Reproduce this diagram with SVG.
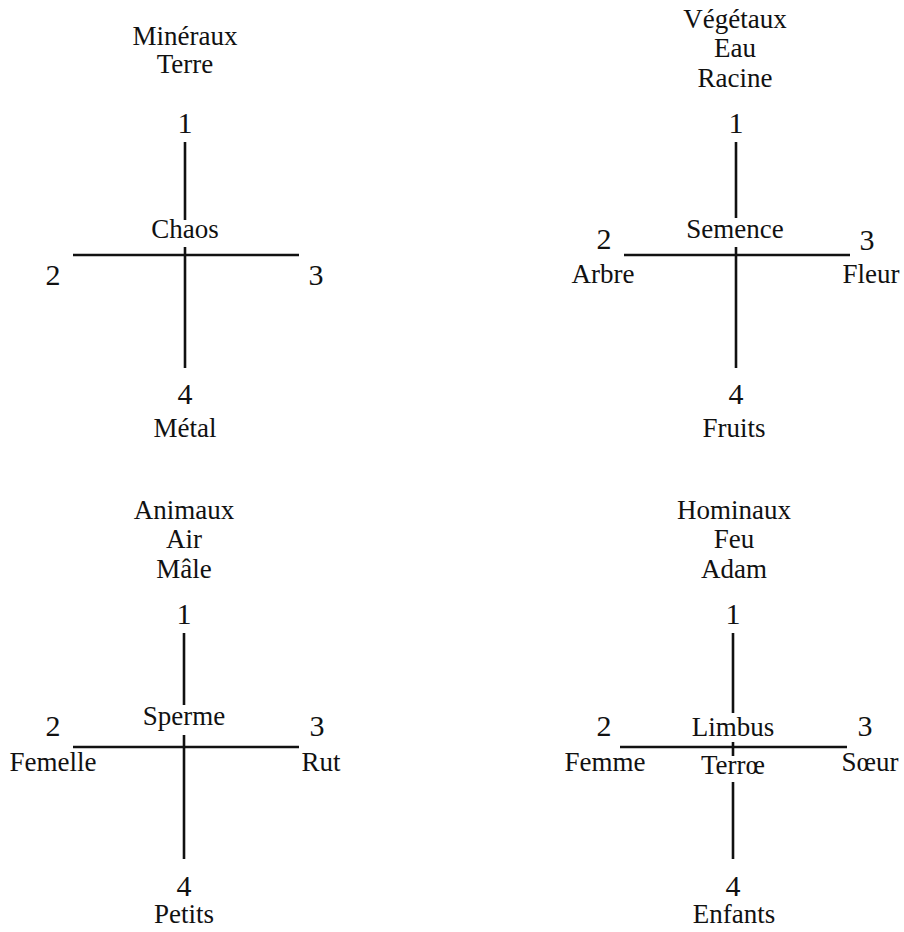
<svg xmlns="http://www.w3.org/2000/svg" width="904" height="932" viewBox="0 0 904 932">
<style>
text{font-family:"Liberation Serif","Times New Roman",serif;fill:#111;text-anchor:middle}
.w{font-size:27px}
.n{font-size:30px}
.ln{stroke:#111;stroke-width:2.6;fill:none}
</style>
<rect width="904" height="932" fill="#fff"/>
<g id="connectors">
<line class="ln" x1="185" y1="142" x2="185" y2="220"/>
<line class="ln" x1="185" y1="247" x2="185" y2="368"/>
<line class="ln" x1="73" y1="255" x2="299" y2="255"/>
<line class="ln" x1="736" y1="142" x2="736" y2="218"/>
<line class="ln" x1="736" y1="247" x2="736" y2="368"/>
<line class="ln" x1="624" y1="255" x2="850" y2="255"/>
<line class="ln" x1="184" y1="633" x2="184" y2="705"/>
<line class="ln" x1="184" y1="735" x2="184" y2="859"/>
<line class="ln" x1="73" y1="747" x2="299" y2="747"/>
<line class="ln" x1="733" y1="633" x2="733" y2="713"/>
<line class="ln" x1="733" y1="742" x2="733" y2="756"/>
<line class="ln" x1="733" y1="782" x2="733" y2="859"/>
<line class="ln" x1="620" y1="747" x2="847" y2="747"/>
</g>
<g id="mineraux">
<text class="w" x="185" y="45">Minéraux</text>
<text class="w" x="185" y="73">Terre</text>
<text class="n" x="185" y="133">1</text>
<text class="w" x="185" y="238">Chaos</text>
<text class="n" x="53" y="285">2</text>
<text class="n" x="316" y="285">3</text>
<text class="n" x="185" y="404">4</text>
<text class="w" x="185" y="437">Métal</text>
</g>
<g id="vegetaux">
<text class="w" x="735" y="28">Végétaux</text>
<text class="w" x="735" y="57">Eau</text>
<text class="w" x="735" y="87">Racine</text>
<text class="n" x="736" y="133">1</text>
<text class="w" x="735" y="238">Semence</text>
<text class="n" x="604" y="249">2</text>
<text class="w" x="603" y="283">Arbre</text>
<text class="n" x="867" y="250">3</text>
<text class="w" x="871" y="283">Fleur</text>
<text class="n" x="736" y="404">4</text>
<text class="w" x="734" y="437">Fruits</text>
</g>
<g id="animaux">
<text class="w" x="184" y="519">Animaux</text>
<text class="w" x="184" y="548">Air</text>
<text class="w" x="184" y="578">Mâle</text>
<text class="n" x="184" y="624">1</text>
<text class="w" x="184" y="725">Sperme</text>
<text class="n" x="53" y="736">2</text>
<text class="w" x="53" y="771">Femelle</text>
<text class="n" x="317" y="736">3</text>
<text class="w" x="321" y="771">Rut</text>
<text class="n" x="184" y="896">4</text>
<text class="w" x="184" y="923">Petits</text>
</g>
<g id="hominaux">
<text class="w" x="734" y="519">Hominaux</text>
<text class="w" x="734" y="548">Feu</text>
<text class="w" x="734" y="578">Adam</text>
<text class="n" x="733" y="624">1</text>
<text class="w" x="733" y="736">Limbus</text>
<text class="w" x="733" y="774">Terrœ</text>
<text class="n" x="604" y="736">2</text>
<text class="w" x="605" y="771">Femme</text>
<text class="n" x="865" y="736">3</text>
<text class="w" x="870" y="771">Sœur</text>
<text class="n" x="733" y="896">4</text>
<text class="w" x="734" y="923">Enfants</text>
</g>
</svg>
